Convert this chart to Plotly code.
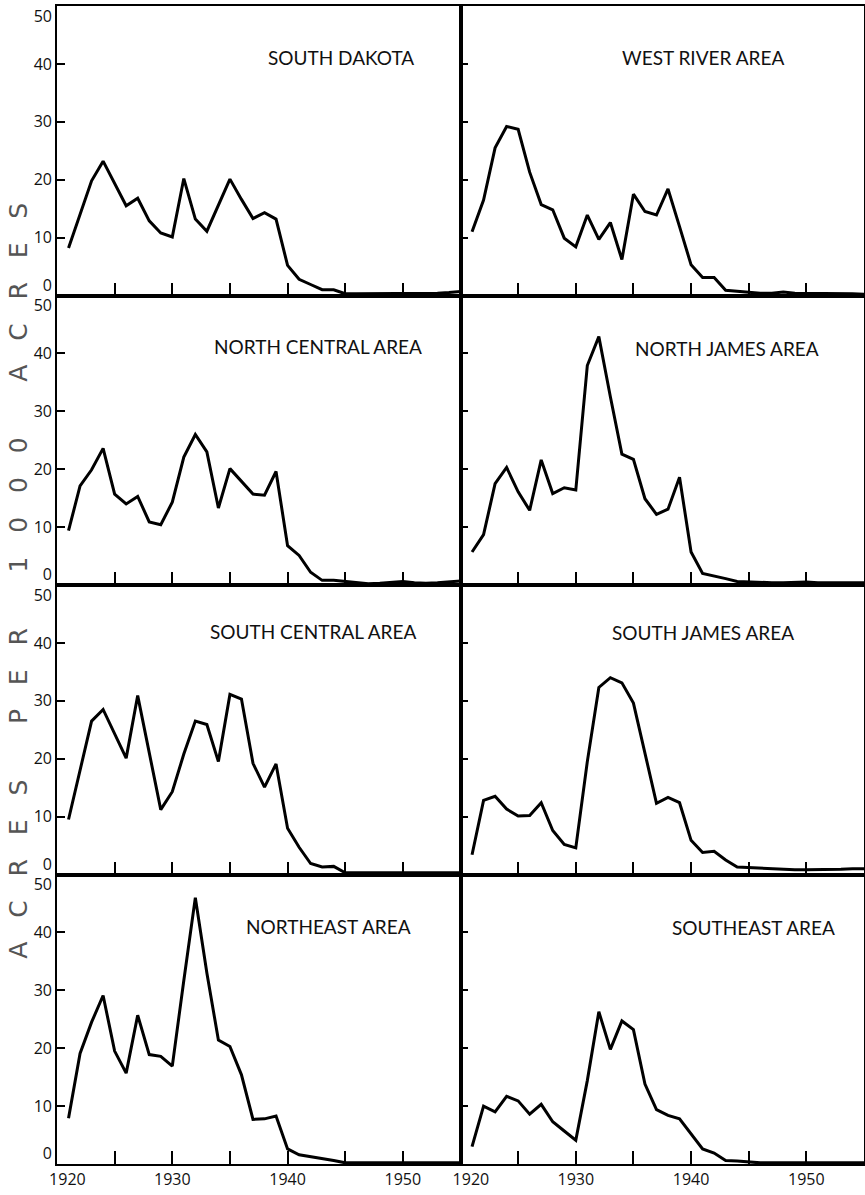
import plotly.graph_objects as go
from plotly.subplots import make_subplots

years = list(range(1921, 1956))

south_dakota = [8.2, 14.0, 19.8, 23.2, 19.3, 15.5, 16.8, 12.9, 10.8, 10.1,
                20.2, 13.2, 11.1, 15.6, 20.1, 16.6, 13.3, 14.3, 13.2, 5.2,
                2.8, 1.9, 1.0, 1.0, 0.3, 0.3, 0.3, 0.3, 0.4, 0.4,
                0.4, 0.4, 0.4, 0.5, 0.7]
west_river = [11.0, 16.5, 25.5, 29.2, 28.7, 21.3, 15.7, 14.8, 9.9, 8.4,
              13.9, 9.7, 12.6, 6.2, 17.5, 14.5, 13.9, 18.4, 11.9, 5.3,
              3.1, 3.1, 0.9, 0.75, 0.5, 0.4, 0.4, 0.6, 0.4, 0.4,
              0.4, 0.4, 0.3, 0.3, 0.2]
north_central = [9.4, 17.1, 19.9, 23.6, 15.7, 14.0, 15.3, 10.9, 10.4, 14.3,
                 22.1, 26.0, 23.0, 13.3, 20.1, 17.9, 15.7, 15.5, 19.6, 6.8,
                 5.1, 2.2, 0.8, 0.8, 0.6, 0.4, 0.2, 0.3, 0.4, 0.6,
                 0.4, 0.3, 0.4, 0.5, 0.7]
north_james = [5.7, 8.7, 17.5, 20.3, 16.1, 12.9, 21.6, 15.8, 16.8, 16.4,
               37.9, 42.9, 32.5, 22.6, 21.7, 14.9, 12.2, 13.1, 18.6, 5.7,
               2.0, 1.6, 1.1, 0.6, 0.5, 0.4, 0.4, 0.4, 0.5, 0.5,
               0.4, 0.4, 0.4, 0.4, 0.4]
south_central = [9.5, 18.0, 26.5, 28.5, 24.2, 20.1, 30.9, 21.1, 11.2, 14.3,
                 20.8, 26.5, 25.9, 19.5, 31.1, 30.3, 19.2, 15.1, 19.1, 8.0,
                 4.7, 1.9, 1.3, 1.4, 0.3, 0.3, 0.3, 0.3, 0.3, 0.3,
                 0.3, 0.3, 0.3, 0.3, 0.3]
south_james = [3.4, 12.8, 13.5, 11.3, 10.1, 10.2, 12.4, 7.6, 5.2, 4.6,
               19.5, 32.3, 34.0, 33.1, 29.6, 21.0, 12.3, 13.3, 12.4, 5.9,
               3.8, 4.0, 2.5, 1.3, 1.2, 1.0, 0.9, 0.8, 0.8, 0.8,
               0.8, 0.8, 0.9, 1.0, 1.0]
northeast = [7.9, 19.1, 24.5, 29.1, 19.5, 15.7, 25.7, 18.9, 18.6, 16.9,
             31.7, 46.0, 33.0, 21.4, 20.3, 15.4, 7.7, 7.8, 8.3, 2.6,
             1.6, 1.3, 1.0, 0.6, 0.2, 0.2, 0.2, 0.2, 0.2, 0.2,
             0.2, 0.2, 0.2, 0.2, 0.2]
southeast = [3.0, 10.0, 9.0, 11.7, 10.9, 8.6, 10.3, 7.3, 5.7, 4.1,
             14.4, 26.3, 19.8, 24.7, 23.2, 13.8, 9.4, 8.4, 7.8, 5.1,
             2.6, 1.9, 0.6, 0.5, 0.3, 0.2, 0.2, 0.2, 0.2, 0.2,
             0.2, 0.2, 0.2, 0.2, 0.2]

panel_names = ["SOUTH DAKOTA", "WEST RIVER AREA",
               "NORTH CENTRAL AREA", "NORTH JAMES AREA",
               "SOUTH CENTRAL AREA", "SOUTH JAMES AREA",
               "NORTHEAST AREA", "SOUTHEAST AREA"]
panel_series = [south_dakota, west_river, north_central, north_james,
                south_central, south_james, northeast, southeast]

x_tick_vals = [1920, 1925, 1930, 1935, 1940, 1945, 1950, 1955]
x_tick_text = ["\u00a0" * 5 + "1920", "", "1930", "", "1940", "", "1950", ""]
y_tick_vals = [0, 10, 20, 30, 40, 50]
y_tick_text = ["0<br>\u00a0", "10", "20", "30", "40", "\u00a0<br>50"]

# title placement inside each panel (domain fractions)
title_pos = [(0.705, 0.823), (0.60, 0.823),
             (0.647, 0.823), (0.66, 0.817),
             (0.634, 0.84), (0.60, 0.837),
             (0.672, 0.82), (0.725, 0.817)]

fig = make_subplots(rows=4, cols=2, horizontal_spacing=0, vertical_spacing=0)

for i, (name, ys) in enumerate(zip(panel_names, panel_series)):
    r = i // 2 + 1
    c = i % 2 + 1
    fig.add_trace(go.Scatter(x=years, y=ys, mode="lines",
                             line=dict(color="black", width=3),
                             showlegend=False, hoverinfo="skip"),
                  row=r, col=c)
    fig.update_xaxes(range=[1920, 1955], tickmode="array", tickvals=x_tick_vals,
                     ticktext=x_tick_text, showticklabels=(r == 4),
                     ticks="inside", ticklen=13, tickwidth=2, tickcolor="black",
                     showline=True, linewidth=1.6, linecolor="black", mirror=True,
                     showgrid=False, zeroline=False, automargin=False,
                     ticklabeloverflow="allow",
                     tickfont=dict(family="Open Sans", size=16, color="#111"),
                     row=r, col=c)
    fig.update_yaxes(range=[0, 50], tickmode="array", tickvals=y_tick_vals,
                     ticktext=y_tick_text,
                     showticklabels=(c == 1),
                     ticks="inside", ticklen=8, tickwidth=2, tickcolor="black",
                     showline=True, linewidth=1.6, linecolor="black", mirror=True,
                     showgrid=False, zeroline=False, automargin=False,
                     ticklabeloverflow="allow",
                     tickfont=dict(family="Open Sans", size=16, color="#111"),
                     row=r, col=c)
    suffix = "" if i == 0 else str(i + 1)
    tx, ty = title_pos[i]
    fig.add_annotation(text=name, xref=f"x{suffix} domain", yref=f"y{suffix} domain",
                       x=tx, y=ty, showarrow=False, xanchor="center", yanchor="middle",
                       font=dict(family="Lato", size=19, color="#111"))

sep = "\u00a0" * 3
wsep = "\u00a0" * 7
y_title = wsep.join(sep.join(w) for w in ["ACRES", "PER", "1000", "ACRES"])
fig.add_annotation(text=y_title, xref="paper", yref="paper", x=-0.048, y=0.504,
                   textangle=-90, showarrow=False, xanchor="center", yanchor="middle",
                   font=dict(family="DejaVu Sans", size=25, color="#555"))

fig.update_layout(width=865, height=1195,
                  margin=dict(l=57, r=1, t=6, b=31, autoexpand=False),
                  paper_bgcolor="white", plot_bgcolor="white")

fig.write_html("out.html", config={"displayModeBar": False},
               post_script="document.body.style.margin='0';document.body.style.overflow='hidden';")
